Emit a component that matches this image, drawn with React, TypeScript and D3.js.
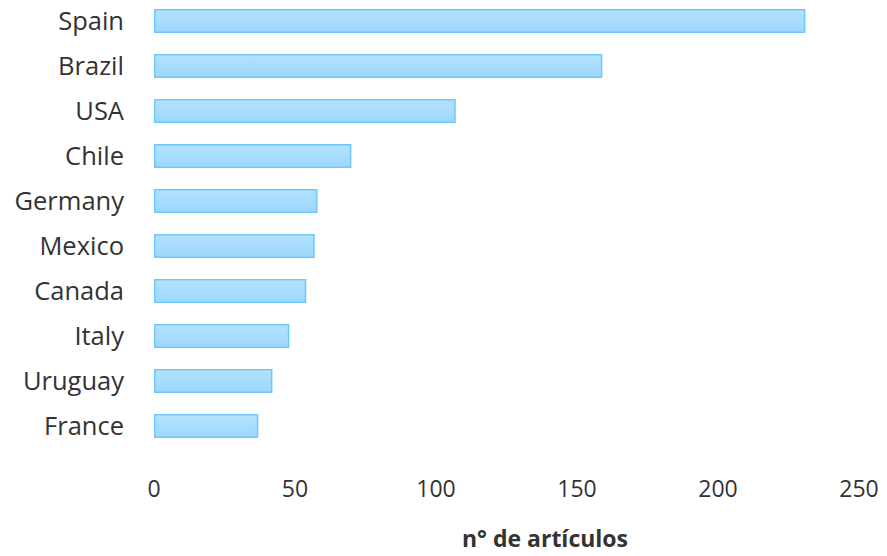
import React, {useEffect, useRef} from 'react';
import * as d3 from 'd3';

const countries = ['Spain', 'Brazil', 'USA', 'Chile', 'Germany', 'Mexico', 'Canada', 'Italy', 'Uruguay', 'France'];
const articles = [231, 159, 107, 70, 58, 57, 54, 48, 42, 37];
const xTicks = [0, 50, 100, 150, 200, 250];
const xTitle = 'n° de artículos';

const W = 887;
const H = 556;

export default function App() {
  const svgRef = useRef<SVGSVGElement>(null);

  useEffect(() => {
    document.body.style.margin = '0';
    if (!svgRef.current) return;
    const svg = d3.select(svgRef.current);
    svg.selectAll('*').remove();

    const font = '"Open Sans", sans-serif';
    const textColor = '#333333';

    const x = d3.scaleLinear().domain([0, 250]).range([154, 859]);
    const y = d3
      .scaleBand<string>()
      .domain(countries)
      .range([-1.5, 448.5])
      .paddingInner(0.467)
      .paddingOuter(0.2335);

    // bar gradient
    const grad = svg
      .append('defs')
      .append('linearGradient')
      .attr('id', 'barGrad')
      .attr('x1', 0)
      .attr('y1', 0)
      .attr('x2', 0)
      .attr('y2', 1);
    grad.append('stop').attr('offset', '0%').attr('stop-color', '#b3e2ff');
    grad.append('stop').attr('offset', '100%').attr('stop-color', '#9dd7fd');

    const data = countries.map((c, i) => ({c, v: articles[i]}));

    svg
      .append('g')
      .selectAll('rect')
      .data(data)
      .enter()
      .append('rect')
      .attr('x', x(0) + 0.75)
      .attr('y', (d) => (y(d.c) || 0) + 0.75)
      .attr('width', (d) => x(d.v) - x(0) - 1.5)
      .attr('height', y.bandwidth() - 1.5)
      .attr('fill', 'url(#barGrad)')
      .attr('stroke', '#6ec9f9')
      .attr('stroke-width', 1.5);

    // category labels
    svg
      .append('g')
      .selectAll('text')
      .data(countries)
      .enter()
      .append('text')
      .attr('x', 124)
      .attr('y', (d) => (y(d) || 0) + y.bandwidth() / 2)
      .attr('dy', '0.36em')
      .attr('text-anchor', 'end')
      .attr('font-family', font)
      .attr('font-size', 25.5)
      .attr('fill', textColor)
      .text((d) => d);

    // x tick labels
    svg
      .append('g')
      .selectAll('text')
      .data(xTicks)
      .enter()
      .append('text')
      .attr('x', (d) => x(d))
      .attr('y', 497)
      .attr('text-anchor', 'middle')
      .attr('font-family', font)
      .attr('font-size', 23)
      .attr('fill', textColor)
      .text((d) => d);

    svg
      .append('text')
      .attr('x', 545)
      .attr('y', 547)
      .attr('text-anchor', 'middle')
      .attr('font-family', font)
      .attr('font-size', 23)
      .attr('font-weight', 'bold')
      .attr('fill', textColor)
      .text(xTitle);
  }, []);

  return <svg ref={svgRef} width={W} height={H} style={{display: 'block', background: '#fff'}} />;
}
